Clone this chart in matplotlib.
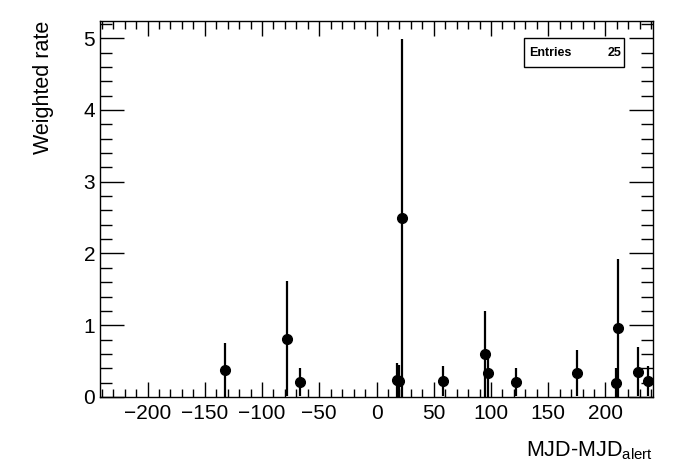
import matplotlib
matplotlib.use("Agg")
import matplotlib.pyplot as plt
from matplotlib.ticker import MultipleLocator
from matplotlib.patches import Rectangle

x_vals = [-132.5, -78.5, -67.0, 17.5, 20.0, 22.0, 58.5, 95.0, 97.0, 122.0, 175.0, 209.0, 210.5, 228.5, 237.5]
y_vals = [0.376, 0.81, 0.21, 0.23, 0.22, 2.49, 0.22, 0.60, 0.33, 0.21, 0.33, 0.20, 0.96, 0.35, 0.22]
y_errs = [0.376, 0.80, 0.19, 0.24, 0.22, 2.50, 0.21, 0.60, 0.33, 0.19, 0.32, 0.21, 0.96, 0.34, 0.21]
entries = 25

plt.rcParams['font.family'] = ['Liberation Sans', 'DejaVu Sans']

fig = plt.figure(figsize=(6.98, 4.74), dpi=100)
ax = fig.add_axes([100/698, 1-397/474, 553/698, 376/474])

ax.errorbar(x_vals, y_vals, yerr=y_errs, fmt='o', color='black', ms=7,
            elinewidth=1.6, capsize=0)

ax.set_xlim(-241.5, 241.5)
ax.set_ylim(0, 5.24)
ax.xaxis.set_major_locator(MultipleLocator(50))
ax.xaxis.set_minor_locator(MultipleLocator(10))
ax.yaxis.set_major_locator(MultipleLocator(1))
ax.yaxis.set_minor_locator(MultipleLocator(0.2))
ax.tick_params(which='both', direction='in', top=True, right=True, labelsize=15, width=1)
ax.tick_params(axis='x', which='major', length=11)
ax.tick_params(axis='x', which='minor', length=5.5)
ax.tick_params(axis='y', which='major', length=17)
ax.tick_params(axis='y', which='minor', length=8.5)
ax.tick_params(axis='x', pad=5)
for s in ax.spines.values():
    s.set_linewidth(1)

fig.text(44/698, 1-21/474, 'Weighted rate', rotation=90, ha='center', va='top', fontsize=15.5)
fig.text(653/698, 1-462/474, r'MJD-MJD$_{\mathregular{alert}}$', ha='right', va='bottom', fontsize=15.5)

box = Rectangle((524/698, 1-67/474), 100/698, 29/474, transform=fig.transFigure,
                facecolor='white', edgecolor='black', lw=1)
fig.add_artist(box)
fig.text(529/698, 1-52.5/474, 'Entries', ha='left', va='center', fontsize=9, fontweight='bold')
fig.text(621/698, 1-52.5/474, str(entries), ha='right', va='center', fontsize=9, fontweight='bold')

fig.savefig('out.png', dpi=100)
